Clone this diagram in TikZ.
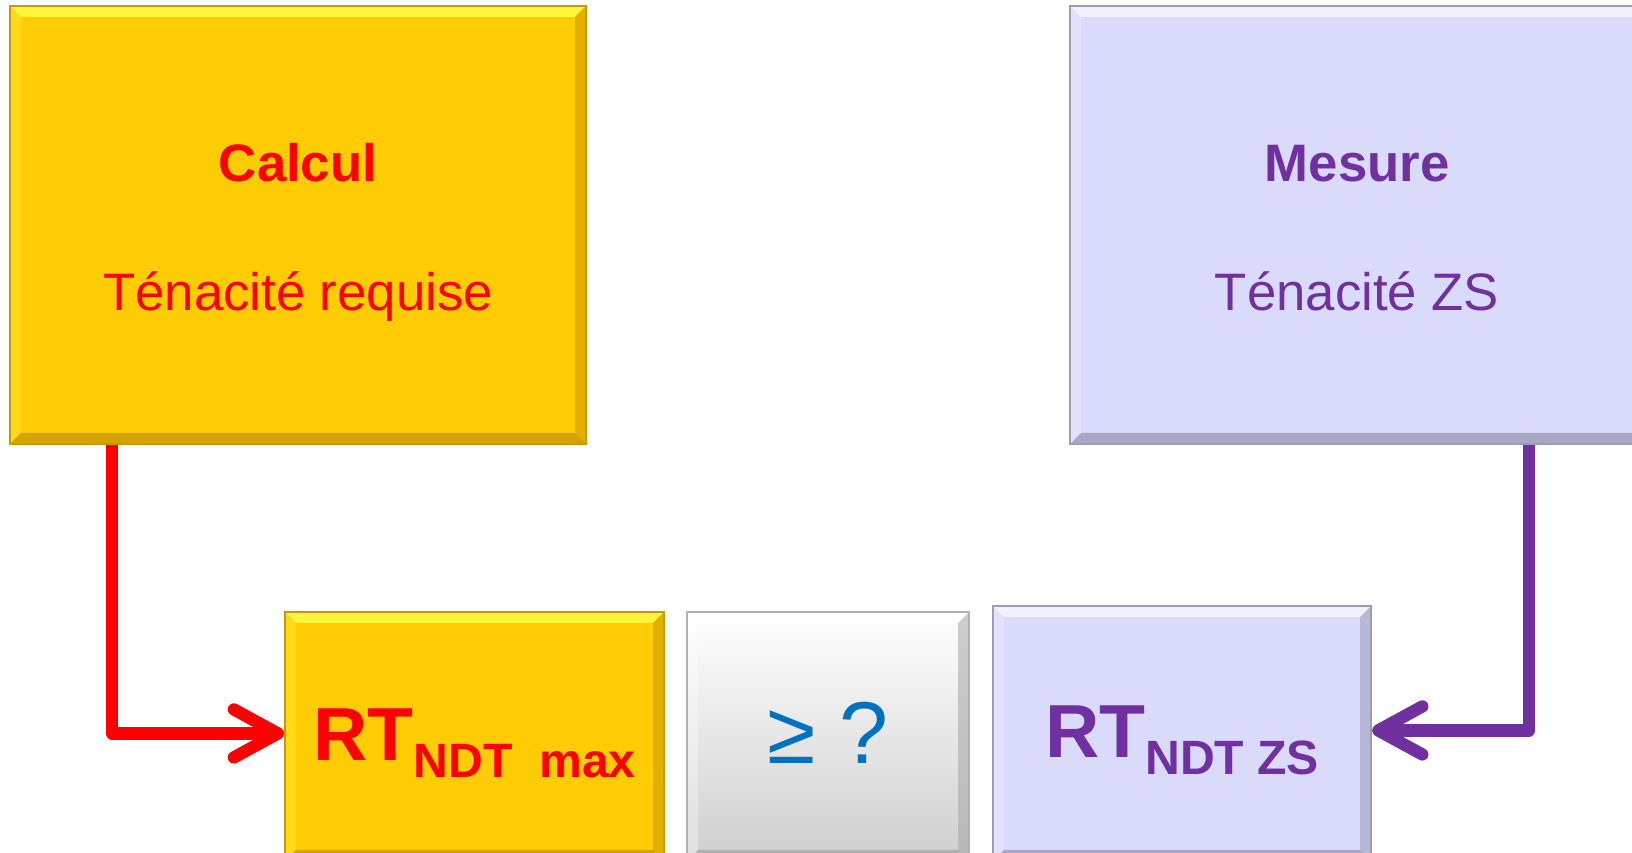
\documentclass[tikz,border=0pt]{standalone}
\usepackage{fontspec}
\setmainfont{Liberation Sans}
\usepackage{xcolor}
\usepackage{tikz}
\usetikzlibrary{arrows.meta,positioning}
\definecolor{gold}{HTML}{FFCC05}
\definecolor{goldhi}{HTML}{FFF53C}
\definecolor{golddk}{HTML}{C99A00}
\definecolor{lav}{HTML}{DADAFB}
\definecolor{lavhi}{HTML}{F2F2FF}
\definecolor{lavdk}{HTML}{9C9CB8}
\definecolor{redt}{HTML}{FF0000}
\definecolor{purp}{HTML}{7030A0}
\definecolor{bluet}{HTML}{0070C0}
\newcommand\rtsub[1]{{\fontsize{21.4}{21.4}\selectfont RT}\raisebox{-4.6pt}{\fontsize{13.7}{13.7}\selectfont #1}}
\tikzset{
  bevel/.style 2 args={path picture={
    \path (path picture bounding box.north west) coordinate (tl)
          (path picture bounding box.north east) coordinate (tr)
          (path picture bounding box.south west) coordinate (bl)
          (path picture bounding box.south east) coordinate (br);
    \fill[#1] (tl) -- (tr) -- ([shift={(-1.1mm,-1.1mm)}]tr) -- ([shift={(1.1mm,-1.1mm)}]tl) -- cycle;
    \fill[#1, opacity=.35] (tl) -- (bl) -- ([shift={(1.1mm,1.1mm)}]bl) -- ([shift={(1.1mm,-1.1mm)}]tl) -- cycle;
    \fill[#2, opacity=.55] (tr) -- (br) -- ([shift={(-1.1mm,1.1mm)}]br) -- ([shift={(-1.1mm,-1.1mm)}]tr) -- cycle;
    \fill[#2, opacity=.8] (bl) -- (br) -- ([shift={(-1.1mm,1.1mm)}]br) -- ([shift={(1.1mm,1.1mm)}]bl) -- cycle;
  }},
  gbox/.style={draw=golddk, fill=gold, line width=0.6pt, inner sep=0pt, anchor=south west,
    bevel={goldhi}{golddk}},
  lbox/.style={draw=lavdk, fill=lav, line width=0.6pt, inner sep=0pt, anchor=south west,
    bevel={lavhi}{lavdk}},
  wbox/.style={draw=gray!60, top color=white, middle color=gray!4, bottom color=gray!38,
    line width=0.6pt, inner sep=0pt, anchor=south west, bevel={white}{gray!70}},
  lab/.style={anchor=base, inner sep=0pt, font=\fontsize{15}{18}\selectfont},
  rt/.style={anchor=base, inner sep=0pt, font=\bfseries},
  redln/.style={draw=redt, line width=3.5pt, line join=round,
    -{Straight Barb[length=4.4mm,width=4.8mm,round]}},
  purln/.style={draw=purp, line width=3.5pt, line join=round,
    -{Straight Barb[length=4.4mm,width=4.8mm,round]}},
}
\begin{document}
\begin{tikzpicture}
  \useasboundingbox (0,0) rectangle (16.32,8.52);
  \clip (0,0) rectangle (16.32,8.52);
  % upper boxes
  \node[gbox, minimum width=5.76cm, minimum height=4.38cm] (calc) at (0.09,4.07) {};
  \node[lbox, minimum width=5.74cm, minimum height=4.38cm] (mes) at (10.69,4.07) {};
  \node[lab, text=redt] (calct) at ([yshift=0.43cm]calc.center) {\textbf{Calcul}};
  \node[lab, text=redt] (calcs) at ([yshift=-0.86cm]calc.center) {Ténacité requise};
  \node[lab, text=purp] (mest) at ([yshift=0.43cm]mes.center) {\textbf{Mesure}};
  \node[lab, text=purp] (mess) at ([yshift=-0.86cm]mes.center) {Ténacité ZS};
  % lower boxes
  \node[gbox, minimum width=3.79cm, minimum height=2.49cm] (rtmax) at (2.84,-0.1) {};
  \node[wbox, minimum width=2.82cm, minimum height=2.49cm] (cmp) at (6.86,-0.1) {};
  \node[lbox, minimum width=3.78cm, minimum height=2.55cm] (rtzs) at (9.92,-0.1) {};
  \node[rt, text=redt] (rtmaxt) at ([yshift=-0.245cm]rtmax.center) {\rtsub{NDT\ \ max}};
  \node[text=bluet, font=\fontsize{25}{25}\selectfont] (cmpt) at ([yshift=0.04cm]cmp.center) {≥ ?};
  \node[rt, text=purp] (rtzst) at ([yshift=-0.245cm]rtzs.center) {\rtsub{NDT ZS}};
  % connectors
  \draw[redln] ([xshift=1.03cm]calc.south west) |- ([yshift=0.03cm]rtmax.west);
  \draw[purln] ([xshift=4.6cm]mes.south west) |- ([yshift=0.03cm]rtzs.east);
\end{tikzpicture}
\end{document}
